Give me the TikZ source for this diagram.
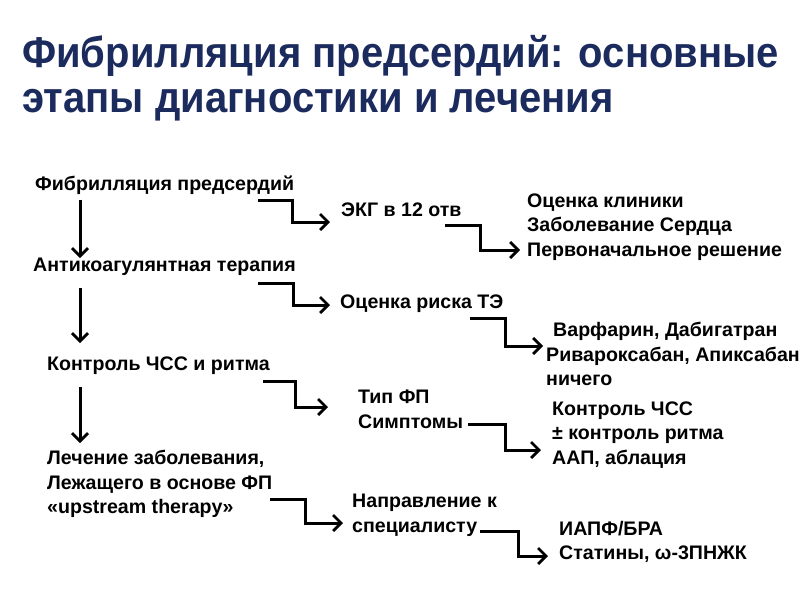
\documentclass[tikz,border=0pt]{standalone}
\usepackage{fontspec}
\setmainfont{Liberation Sans}
\usetikzlibrary{arrows.meta}
\definecolor{titleblue}{HTML}{1C2B5E}
\tikzset{
  txt/.style={anchor=west, inner sep=0pt, align=left, font=\bfseries\fontsize{19.6}{24.6}\selectfont},
  ttl/.style={anchor=base west, inner sep=0pt, text=titleblue, font=\bfseries\fontsize{40}{44}\selectfont},
  conn/.style={line width=3pt, -{Straight Barb[length=8pt,width=16pt,line width=2.8pt]}},
}
\begin{document}
\begin{tikzpicture}[x=1pt,y=-1pt]
\useasboundingbox[fill=white] (0,0) rectangle (800,600);
% title
\node[ttl] (t1) at (22,67) {\scalebox{1}[1.08]{Фибрилляция предсердий: основные}};
\node[ttl] (t2) at (22,112) {\scalebox{1}[1.08]{этапы диагностики и лечения}};
% left column
\node[txt] (n1) at (35,185) {Фибрилляция предсердий};
\node[txt] (n2) at (33,267) {Антикоагулянтная терапия};
\node[txt] (n3) at (47,366) {Контроль ЧСС и ритма};
\node[txt] (n4) at (47,484) {Лечение заболевания,\\Лежащего в основе ФП\\«upstream therapy»};
% middle column
\node[txt] (e1) at (341,210) {ЭКГ в 12 отв};
\node[txt] (e2) at (340,304) {Оценка риска ТЭ};
\node[txt] (e3) at (358,409) {Тип ФП\\Симптомы};
\node[txt] (e4) at (352,515) {Направление к\\специалисту};
% right column
\node[txt] (r1) at (527,227) {Оценка клиники\\Заболевание Сердца\\Первоначальное решение};
\node[txt] (r2) at (546,354) {\hspace*{7pt}Варфарин, Дабигатран\\Ривароксабан, Апиксабан\\ничего};
\node[txt] (r3) at (552,435) {Контроль ЧСС\\± контроль ритма\\ААП, аблация};
\node[txt] (r4) at (559,542) {ИАПФ/БРА\\Статины, ω-3ПНЖК};
% vertical arrows
\coordinate (v1s) at (80,200);
\coordinate (v2s) at (80,288);
\coordinate (v3s) at (80,387);
\draw[conn] (v1s) -- (80,258);
\draw[conn] (v2s) -- (80,343);
\draw[conn] (v3s) -- (80,443);
% step connectors
\coordinate (a1) at (258,200);
\coordinate (a2) at (258,283);
\coordinate (a3) at (263,381);
\coordinate (a4) at (270,499);
\coordinate (b1) at (445,225);
\coordinate (b2) at (470,318);
\coordinate (b3) at (468,424);
\coordinate (b4) at (480,531);
\draw[conn] (a1) -- ++(34,0) |- (330,222);
\draw[conn] (a2) -- ++(35,0) |- (330,305);
\draw[conn] (a3) -- ++(32,0) |- (328,407);
\draw[conn] (a4) -- ++(35,0) |- (343,523);
\draw[conn] (b1) -- ++(35,0) |- (520,250);
\draw[conn] (b2) -- ++(35,0) |- (543,346);
\draw[conn] (b3) -- ++(37,0) |- (541,450);
\draw[conn] (b4) -- ++(38,0) |- (548,556);
\end{tikzpicture}
\end{document}
